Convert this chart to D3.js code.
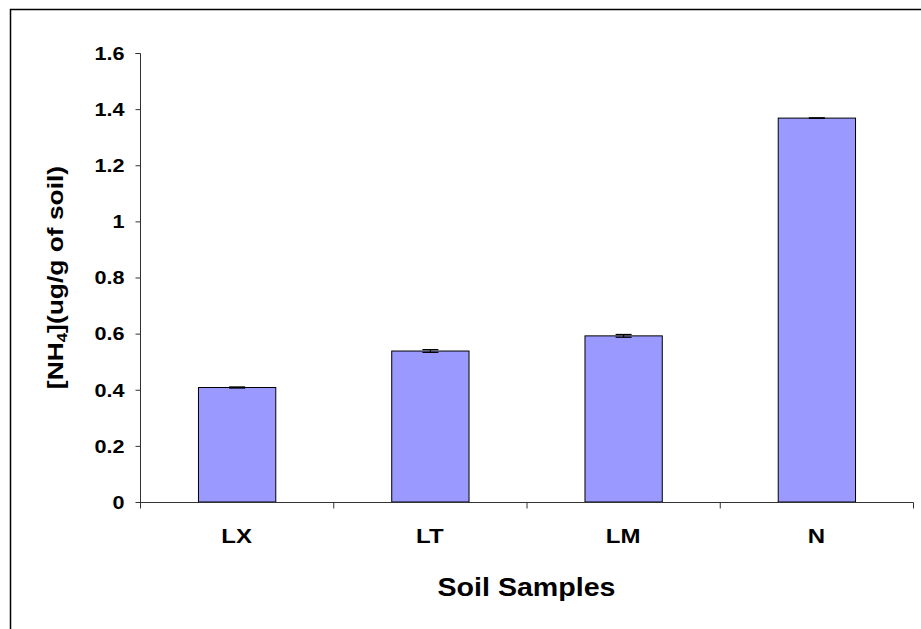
<!DOCTYPE html>
<html>
<head>
<meta charset="utf-8">
<script src="https://cdn.jsdelivr.net/npm/d3@7"></script>
<style>
  html, body { margin: 0; padding: 0; background: #fff; }
  svg { display: block; }
  text { font-family: "Liberation Sans", Arial, sans-serif; font-weight: bold; fill: #000; }
</style>
</head>
<body>
<script>
// Ammonium concentration per soil sample
const categories = ["LX", "LT", "LM", "N"];
const means = [0.408, 0.538, 0.592, 1.368];
const errors = [0.002, 0.005, 0.005, 0.001];
const yTicks = [0, 0.2, 0.4, 0.6, 0.8, 1, 1.2, 1.4, 1.6];

const W = 921, H = 629;
const svg = d3.select("body").append("svg").attr("width", W).attr("height", H);

// outer chart frame
svg.append("rect")
  .attr("x", 10.5).attr("y", 9.5)
  .attr("width", W + 10).attr("height", H + 10)
  .attr("fill", "none").attr("stroke", "#000").attr("stroke-width", 1.5);

const plot = { left: 140, right: 913, top: 53, bottom: 502 };
const stretch = 1.2; // wide lettering

const x = d3.scaleBand().domain(categories).range([plot.left, plot.right]).paddingInner(0.6).paddingOuter(0.3);
const xCat = d3.scaleBand().domain(categories).range([plot.left, plot.right]);
const y = d3.scaleLinear().domain([0, 1.6]).range([plot.bottom, plot.top]);

// y axis
const yAxis = svg.append("g").attr("transform", `translate(${plot.left + 0.5},0)`)
  .call(d3.axisLeft(y).tickValues(yTicks).tickSize(5).tickFormat(d3.format("~g")));
yAxis.select(".domain").attr("d", `M-5,${plot.top + 0.5}H0V${plot.bottom + 5}`).attr("stroke", "#333");
yAxis.selectAll(".tick line").attr("stroke", "#333");
yAxis.selectAll(".tick text").attr("font-size", 18).attr("x", -16 / stretch).attr("dy", "0.35em")
  .attr("transform", `scale(${stretch},1)`)
  .style("font-family", "'Liberation Sans', Arial, sans-serif").style("font-weight", "bold");

// bars
svg.selectAll("rect.bar").data(categories).join("rect")
  .attr("class", "bar")
  .attr("x", d => x(d) + 0.5)
  .attr("y", (d, i) => y(means[i]))
  .attr("width", x.bandwidth())
  .attr("height", (d, i) => plot.bottom - y(means[i]))
  .attr("fill", "#9999FF").attr("stroke", "#000").attr("stroke-width", 1);

// error bars
const eb = svg.append("g").attr("stroke", "#000").attr("stroke-width", 1.2);
categories.forEach((c, i) => {
  const cx = x(c) + x.bandwidth() / 2 + 0.5;
  const hi = y(means[i] + errors[i]), lo = y(means[i] - errors[i]);
  eb.append("line").attr("x1", cx).attr("x2", cx).attr("y1", hi).attr("y2", lo);
  eb.append("line").attr("x1", cx - 8).attr("x2", cx + 8).attr("y1", hi).attr("y2", hi);
  eb.append("line").attr("x1", cx - 8).attr("x2", cx + 8).attr("y1", lo).attr("y2", lo);
});

// x axis with ticks between categories
const xAxis = svg.append("g").attr("transform", `translate(0,${plot.bottom + 0.5})`);
xAxis.append("line").attr("x1", plot.left).attr("x2", plot.right + 0.5).attr("stroke", "#333");
const bounds = categories.map(c => xCat(c)).concat([plot.right]);
xAxis.selectAll("line.tk").data(bounds).join("line").attr("class", "tk")
  .attr("x1", d => d + 0.5).attr("x2", d => d + 0.5).attr("y1", 0).attr("y2", 6).attr("stroke", "#333");
xAxis.selectAll("text").data(categories).join("text")
  .attr("transform", d => `translate(${xCat(d) + xCat.bandwidth() / 2},40) scale(${stretch},1)`)
  .attr("text-anchor", "middle").attr("font-size", 20)
  .text(d => d);

// axis titles
svg.append("text")
  .attr("transform", `translate(${(plot.left + plot.right) / 2},596) scale(1.1,1)`)
  .attr("text-anchor", "middle").attr("font-size", 26).text("Soil Samples");

const yt = svg.append("text")
  .attr("transform", `translate(63,${(plot.top + plot.bottom) / 2}) rotate(-90) scale(1.2,1)`)
  .attr("text-anchor", "middle").attr("font-size", 22);
yt.append("tspan").text("[NH");
yt.append("tspan").attr("font-size", 14).attr("dy", 4).text("4");
yt.append("tspan").attr("dy", -4).text("](ug/g of soil)");
</script>
</body>
</html>
